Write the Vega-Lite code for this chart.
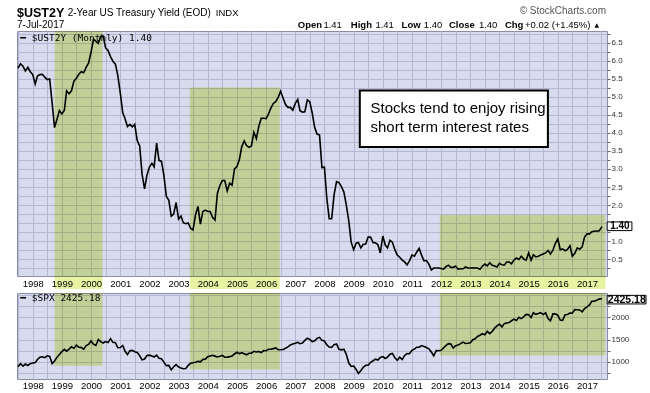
{
  "$schema": "https://vega.github.io/schema/vega-lite/v6.json",
  "background": "white",
  "padding": {"left": 14, "top": 5, "right": 0, "bottom": 0},
  "spacing": 0,
  "datasets": {
    "boxes": [
      {"start": "1998-10-02", "end": "2000-05-23", "ust_top": 6.83, "spx_bottom": 910},
      {"start": "2003-05-21", "end": "2006-06-21", "ust_top": 5.26, "spx_bottom": 826},
      {"start": "2011-12-16", "end": "2017-08-20", "ust_top": 1.72, "spx_bottom": 1140}
    ],
    "ust": [
      {"date":"1997-07-01","value":5.80},{"date":"1997-08-01","value":5.92},{"date":"1997-09-01","value":5.85},{"date":"1997-10-01","value":5.72},{"date":"1997-11-01","value":5.82},{"date":"1997-12-01","value":5.70},
      {"date":"1998-01-01","value":5.62},{"date":"1998-02-01","value":5.36},{"date":"1998-03-01","value":5.58},{"date":"1998-04-01","value":5.62},{"date":"1998-05-01","value":5.63},{"date":"1998-06-01","value":5.55},{"date":"1998-07-01","value":5.48},{"date":"1998-08-01","value":5.50},{"date":"1998-09-01","value":4.83},{"date":"1998-10-01","value":4.15},{"date":"1998-11-01","value":4.38},{"date":"1998-12-01","value":4.62},
      {"date":"1999-01-01","value":4.53},{"date":"1999-02-01","value":4.63},{"date":"1999-03-01","value":5.17},{"date":"1999-04-01","value":5.09},{"date":"1999-05-01","value":5.17},{"date":"1999-06-01","value":5.44},{"date":"1999-07-01","value":5.52},{"date":"1999-08-01","value":5.63},{"date":"1999-09-01","value":5.70},{"date":"1999-10-01","value":5.67},{"date":"1999-11-01","value":5.82},{"date":"1999-12-01","value":5.94},
      {"date":"2000-01-01","value":6.24},{"date":"2000-02-01","value":6.60},{"date":"2000-03-01","value":6.55},{"date":"2000-04-01","value":6.49},{"date":"2000-05-01","value":6.68},{"date":"2000-06-01","value":6.69},{"date":"2000-07-01","value":6.36},{"date":"2000-08-01","value":6.29},{"date":"2000-09-01","value":6.12},{"date":"2000-10-01","value":5.99},{"date":"2000-11-01","value":5.91},{"date":"2000-12-01","value":5.60},
      {"date":"2001-01-01","value":5.11},{"date":"2001-02-01","value":4.56},{"date":"2001-03-01","value":4.40},{"date":"2001-04-01","value":4.18},{"date":"2001-05-01","value":4.24},{"date":"2001-06-01","value":4.17},{"date":"2001-07-01","value":4.24},{"date":"2001-08-01","value":3.79},{"date":"2001-09-01","value":3.64},{"date":"2001-10-01","value":2.85},{"date":"2001-11-01","value":2.45},{"date":"2001-12-01","value":2.83},
      {"date":"2002-01-01","value":3.05},{"date":"2002-02-01","value":3.16},{"date":"2002-03-01","value":3.06},{"date":"2002-04-01","value":3.72},{"date":"2002-05-01","value":3.24},{"date":"2002-06-01","value":3.21},{"date":"2002-07-01","value":2.82},{"date":"2002-08-01","value":2.24},{"date":"2002-09-01","value":2.13},{"date":"2002-10-01","value":1.69},{"date":"2002-11-01","value":1.75},{"date":"2002-12-01","value":2.07},
      {"date":"2003-01-01","value":1.61},{"date":"2003-02-01","value":1.69},{"date":"2003-03-01","value":1.51},{"date":"2003-04-01","value":1.48},{"date":"2003-05-01","value":1.50},{"date":"2003-06-01","value":1.35},{"date":"2003-07-01","value":1.31},{"date":"2003-08-01","value":1.73},{"date":"2003-09-01","value":1.96},{"date":"2003-10-01","value":1.47},{"date":"2003-11-01","value":1.82},{"date":"2003-12-01","value":1.86},
      {"date":"2004-01-01","value":1.82},{"date":"2004-02-01","value":1.82},{"date":"2004-03-01","value":1.66},{"date":"2004-04-01","value":1.58},{"date":"2004-05-01","value":2.32},{"date":"2004-06-01","value":2.54},{"date":"2004-07-01","value":2.68},{"date":"2004-08-01","value":2.68},{"date":"2004-09-01","value":2.39},{"date":"2004-10-01","value":2.61},{"date":"2004-11-01","value":2.55},{"date":"2004-12-01","value":3.00},
      {"date":"2005-01-01","value":3.07},{"date":"2005-02-01","value":3.27},{"date":"2005-03-01","value":3.61},{"date":"2005-04-01","value":3.78},{"date":"2005-05-01","value":3.65},{"date":"2005-06-01","value":3.60},{"date":"2005-07-01","value":3.64},{"date":"2005-08-01","value":4.02},{"date":"2005-09-01","value":3.84},{"date":"2005-10-01","value":4.18},{"date":"2005-11-01","value":4.41},{"date":"2005-12-01","value":4.41},
      {"date":"2006-01-01","value":4.40},{"date":"2006-02-01","value":4.53},{"date":"2006-03-01","value":4.69},{"date":"2006-04-01","value":4.82},{"date":"2006-05-01","value":4.87},{"date":"2006-06-01","value":4.99},{"date":"2006-07-01","value":5.16},{"date":"2006-08-01","value":4.97},{"date":"2006-09-01","value":4.79},{"date":"2006-10-01","value":4.71},{"date":"2006-11-01","value":4.71},{"date":"2006-12-01","value":4.63},
      {"date":"2007-01-01","value":4.82},{"date":"2007-02-01","value":4.93},{"date":"2007-03-01","value":4.62},{"date":"2007-04-01","value":4.58},{"date":"2007-05-01","value":4.59},{"date":"2007-06-01","value":4.92},{"date":"2007-07-01","value":4.87},{"date":"2007-08-01","value":4.56},{"date":"2007-09-01","value":4.15},{"date":"2007-10-01","value":3.97},{"date":"2007-11-01","value":3.94},{"date":"2007-12-01","value":3.04},
      {"date":"2008-01-01","value":3.05},{"date":"2008-02-01","value":2.16},{"date":"2008-03-01","value":1.62},{"date":"2008-04-01","value":1.62},{"date":"2008-05-01","value":2.29},{"date":"2008-06-01","value":2.65},{"date":"2008-07-01","value":2.62},{"date":"2008-08-01","value":2.51},{"date":"2008-09-01","value":2.36},{"date":"2008-10-01","value":2.00},{"date":"2008-11-01","value":1.56},{"date":"2008-12-01","value":0.97},
      {"date":"2009-01-01","value":0.76},{"date":"2009-02-01","value":0.94},{"date":"2009-03-01","value":0.96},{"date":"2009-04-01","value":0.81},{"date":"2009-05-01","value":0.91},{"date":"2009-06-01","value":0.92},{"date":"2009-07-01","value":1.11},{"date":"2009-08-01","value":1.11},{"date":"2009-09-01","value":0.96},{"date":"2009-10-01","value":0.95},{"date":"2009-11-01","value":0.90},{"date":"2009-12-01","value":0.67},
      {"date":"2010-01-01","value":1.14},{"date":"2010-02-01","value":0.89},{"date":"2010-03-01","value":0.81},{"date":"2010-04-01","value":1.02},{"date":"2010-05-01","value":0.97},{"date":"2010-06-01","value":0.76},{"date":"2010-07-01","value":0.61},{"date":"2010-08-01","value":0.55},{"date":"2010-09-01","value":0.47},{"date":"2010-10-01","value":0.42},{"date":"2010-11-01","value":0.34},{"date":"2010-12-01","value":0.45},
      {"date":"2011-01-01","value":0.61},{"date":"2011-02-01","value":0.58},{"date":"2011-03-01","value":0.69},{"date":"2011-04-01","value":0.80},{"date":"2011-05-01","value":0.61},{"date":"2011-06-01","value":0.45},{"date":"2011-07-01","value":0.46},{"date":"2011-08-01","value":0.36},{"date":"2011-09-01","value":0.20},{"date":"2011-10-01","value":0.25},{"date":"2011-11-01","value":0.25},{"date":"2011-12-01","value":0.25},
      {"date":"2012-01-01","value":0.24},{"date":"2012-02-01","value":0.22},{"date":"2012-03-01","value":0.29},{"date":"2012-04-01","value":0.33},{"date":"2012-05-01","value":0.27},{"date":"2012-06-01","value":0.27},{"date":"2012-07-01","value":0.30},{"date":"2012-08-01","value":0.22},{"date":"2012-09-01","value":0.23},{"date":"2012-10-01","value":0.23},{"date":"2012-11-01","value":0.28},{"date":"2012-12-01","value":0.25},
      {"date":"2013-01-01","value":0.25},{"date":"2013-02-01","value":0.26},{"date":"2013-03-01","value":0.25},{"date":"2013-04-01","value":0.25},{"date":"2013-05-01","value":0.22},{"date":"2013-06-01","value":0.30},{"date":"2013-07-01","value":0.36},{"date":"2013-08-01","value":0.31},{"date":"2013-09-01","value":0.40},{"date":"2013-10-01","value":0.33},{"date":"2013-11-01","value":0.31},{"date":"2013-12-01","value":0.28},
      {"date":"2014-01-01","value":0.38},{"date":"2014-02-01","value":0.34},{"date":"2014-03-01","value":0.33},{"date":"2014-04-01","value":0.42},{"date":"2014-05-01","value":0.42},{"date":"2014-06-01","value":0.37},{"date":"2014-07-01","value":0.47},{"date":"2014-08-01","value":0.53},{"date":"2014-09-01","value":0.49},{"date":"2014-10-01","value":0.58},{"date":"2014-11-01","value":0.50},{"date":"2014-12-01","value":0.47},
      {"date":"2015-01-01","value":0.67},{"date":"2015-02-01","value":0.47},{"date":"2015-03-01","value":0.62},{"date":"2015-04-01","value":0.56},{"date":"2015-05-01","value":0.58},{"date":"2015-06-01","value":0.61},{"date":"2015-07-01","value":0.64},{"date":"2015-08-01","value":0.67},{"date":"2015-09-01","value":0.74},{"date":"2015-10-01","value":0.64},{"date":"2015-11-01","value":0.75},{"date":"2015-12-01","value":0.93},
      {"date":"2016-01-01","value":1.06},{"date":"2016-02-01","value":0.76},{"date":"2016-03-01","value":0.78},{"date":"2016-04-01","value":0.73},{"date":"2016-05-01","value":0.77},{"date":"2016-06-01","value":0.87},{"date":"2016-07-01","value":0.58},{"date":"2016-08-01","value":0.66},{"date":"2016-09-01","value":0.81},{"date":"2016-10-01","value":0.77},{"date":"2016-11-01","value":0.84},{"date":"2016-12-01","value":1.11},
      {"date":"2017-01-01","value":1.20},{"date":"2017-02-01","value":1.20},{"date":"2017-03-01","value":1.26},{"date":"2017-04-01","value":1.27},{"date":"2017-05-01","value":1.28},{"date":"2017-06-01","value":1.28},{"date":"2017-07-01","value":1.38},{"date":"2017-07-07","value":1.40}
    ],
    "spx": [
      {"date":"1997-07-01","value":885},{"date":"1997-08-01","value":954},{"date":"1997-09-01","value":899},{"date":"1997-10-01","value":947},{"date":"1997-11-01","value":915},{"date":"1997-12-01","value":955},
      {"date":"1998-01-01","value":970},{"date":"1998-02-01","value":980},{"date":"1998-03-01","value":1049},{"date":"1998-04-01","value":1102},{"date":"1998-05-01","value":1112},{"date":"1998-06-01","value":1091},{"date":"1998-07-01","value":1134},{"date":"1998-08-01","value":1121},{"date":"1998-09-01","value":957},{"date":"1998-10-01","value":1017},{"date":"1998-11-01","value":1099},{"date":"1998-12-01","value":1164},
      {"date":"1999-01-01","value":1229},{"date":"1999-02-01","value":1280},{"date":"1999-03-01","value":1238},{"date":"1999-04-01","value":1286},{"date":"1999-05-01","value":1335},{"date":"1999-06-01","value":1302},{"date":"1999-07-01","value":1373},{"date":"1999-08-01","value":1329},{"date":"1999-09-01","value":1320},{"date":"1999-10-01","value":1283},{"date":"1999-11-01","value":1363},{"date":"1999-12-01","value":1389},
      {"date":"2000-01-01","value":1469},{"date":"2000-02-01","value":1394},{"date":"2000-03-01","value":1366},{"date":"2000-04-01","value":1499},{"date":"2000-05-01","value":1452},{"date":"2000-06-01","value":1421},{"date":"2000-07-01","value":1455},{"date":"2000-08-01","value":1431},{"date":"2000-09-01","value":1518},{"date":"2000-10-01","value":1437},{"date":"2000-11-01","value":1429},{"date":"2000-12-01","value":1315},
      {"date":"2001-01-01","value":1320},{"date":"2001-02-01","value":1366},{"date":"2001-03-01","value":1240},{"date":"2001-04-01","value":1160},{"date":"2001-05-01","value":1249},{"date":"2001-06-01","value":1256},{"date":"2001-07-01","value":1224},{"date":"2001-08-01","value":1211},{"date":"2001-09-01","value":1134},{"date":"2001-10-01","value":1041},{"date":"2001-11-01","value":1060},{"date":"2001-12-01","value":1139},
      {"date":"2002-01-01","value":1148},{"date":"2002-02-01","value":1130},{"date":"2002-03-01","value":1107},{"date":"2002-04-01","value":1147},{"date":"2002-05-01","value":1076},{"date":"2002-06-01","value":1067},{"date":"2002-07-01","value":990},{"date":"2002-08-01","value":912},{"date":"2002-09-01","value":916},{"date":"2002-10-01","value":815},{"date":"2002-11-01","value":886},{"date":"2002-12-01","value":936},
      {"date":"2003-01-01","value":880},{"date":"2003-02-01","value":856},{"date":"2003-03-01","value":841},{"date":"2003-04-01","value":848},{"date":"2003-05-01","value":917},{"date":"2003-06-01","value":964},{"date":"2003-07-01","value":975},{"date":"2003-08-01","value":990},{"date":"2003-09-01","value":1008},{"date":"2003-10-01","value":996},{"date":"2003-11-01","value":1051},{"date":"2003-12-01","value":1058},
      {"date":"2004-01-01","value":1112},{"date":"2004-02-01","value":1131},{"date":"2004-03-01","value":1145},{"date":"2004-04-01","value":1126},{"date":"2004-05-01","value":1107},{"date":"2004-06-01","value":1121},{"date":"2004-07-01","value":1141},{"date":"2004-08-01","value":1102},{"date":"2004-09-01","value":1104},{"date":"2004-10-01","value":1115},{"date":"2004-11-01","value":1130},{"date":"2004-12-01","value":1174},
      {"date":"2005-01-01","value":1212},{"date":"2005-02-01","value":1181},{"date":"2005-03-01","value":1204},{"date":"2005-04-01","value":1181},{"date":"2005-05-01","value":1157},{"date":"2005-06-01","value":1192},{"date":"2005-07-01","value":1191},{"date":"2005-08-01","value":1234},{"date":"2005-09-01","value":1220},{"date":"2005-10-01","value":1229},{"date":"2005-11-01","value":1207},{"date":"2005-12-01","value":1249},
      {"date":"2006-01-01","value":1248},{"date":"2006-02-01","value":1280},{"date":"2006-03-01","value":1281},{"date":"2006-04-01","value":1295},{"date":"2006-05-01","value":1311},{"date":"2006-06-01","value":1270},{"date":"2006-07-01","value":1270},{"date":"2006-08-01","value":1277},{"date":"2006-09-01","value":1304},{"date":"2006-10-01","value":1336},{"date":"2006-11-01","value":1378},{"date":"2006-12-01","value":1401},
      {"date":"2007-01-01","value":1418},{"date":"2007-02-01","value":1438},{"date":"2007-03-01","value":1407},{"date":"2007-04-01","value":1421},{"date":"2007-05-01","value":1482},{"date":"2007-06-01","value":1531},{"date":"2007-07-01","value":1503},{"date":"2007-08-01","value":1455},{"date":"2007-09-01","value":1474},{"date":"2007-10-01","value":1527},{"date":"2007-11-01","value":1549},{"date":"2007-12-01","value":1481},
      {"date":"2008-01-01","value":1468},{"date":"2008-02-01","value":1379},{"date":"2008-03-01","value":1331},{"date":"2008-04-01","value":1323},{"date":"2008-05-01","value":1386},{"date":"2008-06-01","value":1400},{"date":"2008-07-01","value":1280},{"date":"2008-08-01","value":1267},{"date":"2008-09-01","value":1283},{"date":"2008-10-01","value":1166},{"date":"2008-11-01","value":969},{"date":"2008-12-01","value":896},
      {"date":"2009-01-01","value":903},{"date":"2009-02-01","value":826},{"date":"2009-03-01","value":735},{"date":"2009-04-01","value":798},{"date":"2009-05-01","value":873},{"date":"2009-06-01","value":919},{"date":"2009-07-01","value":919},{"date":"2009-08-01","value":987},{"date":"2009-09-01","value":1021},{"date":"2009-10-01","value":1057},{"date":"2009-11-01","value":1036},{"date":"2009-12-01","value":1096},
      {"date":"2010-01-01","value":1115},{"date":"2010-02-01","value":1074},{"date":"2010-03-01","value":1104},{"date":"2010-04-01","value":1169},{"date":"2010-05-01","value":1187},{"date":"2010-06-01","value":1089},{"date":"2010-07-01","value":1031},{"date":"2010-08-01","value":1102},{"date":"2010-09-01","value":1049},{"date":"2010-10-01","value":1141},{"date":"2010-11-01","value":1183},{"date":"2010-12-01","value":1181},
      {"date":"2011-01-01","value":1258},{"date":"2011-02-01","value":1286},{"date":"2011-03-01","value":1327},{"date":"2011-04-01","value":1326},{"date":"2011-05-01","value":1364},{"date":"2011-06-01","value":1345},{"date":"2011-07-01","value":1321},{"date":"2011-08-01","value":1292},{"date":"2011-09-01","value":1219},{"date":"2011-10-01","value":1131},{"date":"2011-11-01","value":1253},{"date":"2011-12-01","value":1247},
      {"date":"2012-01-01","value":1258},{"date":"2012-02-01","value":1312},{"date":"2012-03-01","value":1366},{"date":"2012-04-01","value":1408},{"date":"2012-05-01","value":1398},{"date":"2012-06-01","value":1310},{"date":"2012-07-01","value":1362},{"date":"2012-08-01","value":1379},{"date":"2012-09-01","value":1407},{"date":"2012-10-01","value":1441},{"date":"2012-11-01","value":1412},{"date":"2012-12-01","value":1416},
      {"date":"2013-01-01","value":1426},{"date":"2013-02-01","value":1498},{"date":"2013-03-01","value":1515},{"date":"2013-04-01","value":1569},{"date":"2013-05-01","value":1598},{"date":"2013-06-01","value":1631},{"date":"2013-07-01","value":1606},{"date":"2013-08-01","value":1686},{"date":"2013-09-01","value":1633},{"date":"2013-10-01","value":1682},{"date":"2013-11-01","value":1757},{"date":"2013-12-01","value":1806},
      {"date":"2014-01-01","value":1848},{"date":"2014-02-01","value":1783},{"date":"2014-03-01","value":1859},{"date":"2014-04-01","value":1872},{"date":"2014-05-01","value":1884},{"date":"2014-06-01","value":1924},{"date":"2014-07-01","value":1960},{"date":"2014-08-01","value":1931},{"date":"2014-09-01","value":2003},{"date":"2014-10-01","value":1972},{"date":"2014-11-01","value":2018},{"date":"2014-12-01","value":2068},
      {"date":"2015-01-01","value":2059},{"date":"2015-02-01","value":1995},{"date":"2015-03-01","value":2105},{"date":"2015-04-01","value":2068},{"date":"2015-05-01","value":2086},{"date":"2015-06-01","value":2107},{"date":"2015-07-01","value":2063},{"date":"2015-08-01","value":2104},{"date":"2015-09-01","value":1972},{"date":"2015-10-01","value":1920},{"date":"2015-11-01","value":2079},{"date":"2015-12-01","value":2080},
      {"date":"2016-01-01","value":2044},{"date":"2016-02-01","value":1940},{"date":"2016-03-01","value":1932},{"date":"2016-04-01","value":2060},{"date":"2016-05-01","value":2065},{"date":"2016-06-01","value":2097},{"date":"2016-07-01","value":2099},{"date":"2016-08-01","value":2174},{"date":"2016-09-01","value":2171},{"date":"2016-10-01","value":2168},{"date":"2016-11-01","value":2126},{"date":"2016-12-01","value":2199},
      {"date":"2017-01-01","value":2239},{"date":"2017-02-01","value":2279},{"date":"2017-03-01","value":2364},{"date":"2017-04-01","value":2363},{"date":"2017-05-01","value":2384},{"date":"2017-06-01","value":2412},{"date":"2017-07-01","value":2423},{"date":"2017-07-07","value":2425.18}
    ]
  },
  "vconcat": [
    {
      "width": 590,
      "height": 245,
      "layer": [
        {
          "data": {"name": "boxes"},
          "mark": {"type": "rect", "color": "#e7f3a3", "blend": "multiply"},
          "encoding": {
            "x": {"field": "start", "type": "temporal"},
            "x2": {"field": "end"},
            "y": {"field": "ust_top", "type": "quantitative"},
            "y2": {"datum": -0.333}
          }
        },
        {
          "data": {"name": "ust"},
          "mark": {"type": "line", "color": "black", "strokeWidth": 1.6},
          "encoding": {
            "x": {
              "field": "date", "type": "temporal",
              "scale": {"domain": [{"year": 1997, "month": 6, "date": 18}, {"year": 2017, "month": 9, "date": 8}], "nice": false},
              "axis": {"title": null, "orient": "bottom", "tickCount": {"interval": "month", "step": 6}, "labelExpr": "month(datum.value) === 0 ? timeFormat(datum.value, '%Y') : ''", "grid": true, "ticks": false, "domain": false, "labelFlush": false, "labelOverlap": false, "labelPadding": 2, "labelFontSize": 9.5, "labelColor": "#000", "minExtent": 13, "maxExtent": 13}
            },
            "y": {
              "field": "value", "type": "quantitative",
              "scale": {"domain": [0.03, 6.83], "nice": false, "zero": false},
              "axis": {"title": null, "orient": "right", "tickCount": 200, "values": [0.25, 0.5, 0.75, 1, 1.25, 1.5, 1.75, 2, 2.25, 2.5, 2.75, 3, 3.25, 3.5, 3.75, 4, 4.25, 4.5, 4.75, 5, 5.25, 5.5, 5.75, 6, 6.25, 6.5, 6.75], "labelExpr": "(datum.value * 2) % 1 === 0 ? format(datum.value, '.1f') : ''", "grid": true, "domain": false, "tickSize": 3, "tickColor": "#666", "labelPadding": 1, "labelFontSize": 8, "labelColor": "#333", "labelOverlap": false}
            }
          }
        },
        {
          "data": {"values": [{}]},
          "layer": [
            {
              "mark": {"type": "rect", "fill": "white", "stroke": "black", "strokeWidth": 2},
              "encoding": {
                "x": {"datum": {"year": 2009, "month": 3, "date": 19}, "type": "temporal"},
                "x2": {"datum": {"year": 2015, "month": 8, "date": 30}},
                "y": {"datum": 5.179, "type": "quantitative"},
                "y2": {"datum": 3.608}
              }
            },
            {
              "mark": {"type": "text", "text": "Stocks tend to enjoy rising", "align": "left", "baseline": "middle", "fontSize": 15, "color": "black"},
              "encoding": {"x": {"datum": {"year": 2009, "month": 7, "date": 31}, "type": "temporal"}, "y": {"datum": 4.68, "type": "quantitative"}}
            },
            {
              "mark": {"type": "text", "text": "short term interest rates", "align": "left", "baseline": "middle", "fontSize": 15, "color": "black"},
              "encoding": {"x": {"datum": {"year": 2009, "month": 7, "date": 31}, "type": "temporal"}, "y": {"datum": 4.162, "type": "quantitative"}}
            },
            {
              "mark": {"type": "text", "text": "━ $UST2Y (Monthly) 1.40", "align": "left", "baseline": "middle", "font": "DejaVu Sans Mono", "fontSize": 9.5, "color": "black"},
              "encoding": {"x": {"datum": {"year": 1997, "month": 7, "date": 30}, "type": "temporal"}, "y": {"datum": 6.647, "type": "quantitative"}}
            },
            {
              "mark": {"type": "rect", "fill": "white", "stroke": "black", "strokeWidth": 1},
              "encoding": {
                "x": {"datum": {"year": 2017, "month": 9, "date": 10}, "type": "temporal"},
                "x2": {"datum": {"year": 2018, "month": 7, "date": 17}},
                "y": {"datum": 1.29, "type": "quantitative"},
                "y2": {"datum": 1.53}
              }
            },
            {
              "mark": {"type": "text", "text": "1.40", "align": "center", "baseline": "middle", "fontSize": 10, "fontWeight": "bold", "color": "black"},
              "encoding": {"x": {"datum": {"year": 2018, "month": 2, "date": 17}, "type": "temporal"}, "y": {"datum": 1.41, "type": "quantitative"}}
            },
            {
              "mark": {"type": "text", "text": "$UST2Y", "align": "left", "baseline": "middle", "fontSize": 12.5, "fontWeight": "bold", "color": "black"},
              "encoding": {"x": {"datum": {"year": 1997, "month": 6, "date": 18}, "type": "temporal"}, "y": {"datum": 7.33, "type": "quantitative"}}
            },
            {
              "mark": {"type": "text", "text": "2-Year US Treasury Yield (EOD)", "align": "left", "baseline": "middle", "fontSize": 10, "color": "black"},
              "encoding": {"x": {"datum": {"year": 1999, "month": 3, "date": 15}, "type": "temporal"}, "y": {"datum": 7.33, "type": "quantitative"}}
            },
            {
              "mark": {"type": "text", "text": "INDX", "align": "left", "baseline": "middle", "fontSize": 9.5, "color": "black"},
              "encoding": {"x": {"datum": {"year": 2004, "month": 4, "date": 11}, "type": "temporal"}, "y": {"datum": 7.33, "type": "quantitative"}}
            },
            {
              "mark": {"type": "text", "text": "© StockCharts.com", "align": "right", "baseline": "middle", "fontSize": 10, "color": "#555"},
              "encoding": {"x": {"datum": {"year": 2017, "month": 8, "date": 26}, "type": "temporal"}, "y": {"datum": 7.395, "type": "quantitative"}}
            },
            {
              "mark": {"type": "text", "text": "7-Jul-2017", "align": "left", "baseline": "middle", "fontSize": 10, "color": "black"},
              "encoding": {"x": {"datum": {"year": 1997, "month": 6, "date": 18}, "type": "temporal"}, "y": {"datum": 6.993, "type": "quantitative"}}
            },
            {
              "mark": {"type": "text", "text": "Open", "align": "left", "baseline": "middle", "fontSize": 9.5, "fontWeight": "bold", "color": "black"},
              "encoding": {"x": {"datum": {"year": 2007, "month": 2, "date": 2}, "type": "temporal"}, "y": {"datum": 6.993, "type": "quantitative"}}
            },
            {
              "mark": {"type": "text", "text": "1.41", "align": "left", "baseline": "middle", "fontSize": 9.5, "color": "black"},
              "encoding": {"x": {"datum": {"year": 2007, "month": 12, "date": 19}, "type": "temporal"}, "y": {"datum": 6.993, "type": "quantitative"}}
            },
            {
              "mark": {"type": "text", "text": "High", "align": "left", "baseline": "middle", "fontSize": 9.5, "fontWeight": "bold", "color": "black"},
              "encoding": {"x": {"datum": {"year": 2008, "month": 11, "date": 27}, "type": "temporal"}, "y": {"datum": 6.993, "type": "quantitative"}}
            },
            {
              "mark": {"type": "text", "text": "1.41", "align": "left", "baseline": "middle", "fontSize": 9.5, "color": "black"},
              "encoding": {"x": {"datum": {"year": 2009, "month": 9, "date": 30}, "type": "temporal"}, "y": {"datum": 6.993, "type": "quantitative"}}
            },
            {
              "mark": {"type": "text", "text": "Low", "align": "left", "baseline": "middle", "fontSize": 9.5, "fontWeight": "bold", "color": "black"},
              "encoding": {"x": {"datum": {"year": 2010, "month": 8, "date": 24}, "type": "temporal"}, "y": {"datum": 6.993, "type": "quantitative"}}
            },
            {
              "mark": {"type": "text", "text": "1.40", "align": "left", "baseline": "middle", "fontSize": 9.5, "color": "black"},
              "encoding": {"x": {"datum": {"year": 2011, "month": 5, "date": 30}, "type": "temporal"}, "y": {"datum": 6.993, "type": "quantitative"}}
            },
            {
              "mark": {"type": "text", "text": "Close", "align": "left", "baseline": "middle", "fontSize": 9.5, "fontWeight": "bold", "color": "black"},
              "encoding": {"x": {"datum": {"year": 2012, "month": 4, "date": 8}, "type": "temporal"}, "y": {"datum": 6.993, "type": "quantitative"}}
            },
            {
              "mark": {"type": "text", "text": "1.40", "align": "left", "baseline": "middle", "fontSize": 9.5, "color": "black"},
              "encoding": {"x": {"datum": {"year": 2013, "month": 4, "date": 18}, "type": "temporal"}, "y": {"datum": 6.993, "type": "quantitative"}}
            },
            {
              "mark": {"type": "text", "text": "Chg", "align": "left", "baseline": "middle", "fontSize": 9.5, "fontWeight": "bold", "color": "black"},
              "encoding": {"x": {"datum": {"year": 2014, "month": 3, "date": 10}, "type": "temporal"}, "y": {"datum": 6.993, "type": "quantitative"}}
            },
            {
              "mark": {"type": "text", "text": "+0.02 (+1.45%)", "align": "left", "baseline": "middle", "fontSize": 9.5, "color": "black"},
              "encoding": {"x": {"datum": {"year": 2014, "month": 11, "date": 16}, "type": "temporal"}, "y": {"datum": 6.993, "type": "quantitative"}}
            },
            {
              "mark": {"type": "text", "text": "▲", "align": "left", "baseline": "middle", "font": "DejaVu Sans", "fontSize": 6, "color": "black"},
              "encoding": {"x": {"datum": {"year": 2017, "month": 4, "date": 5}, "type": "temporal"}, "y": {"datum": 6.993, "type": "quantitative"}}
            }
          ]
        }
      ]
    },
    {
      "width": 590,
      "height": 86,
      "layer": [
        {
          "data": {"name": "boxes"},
          "mark": {"type": "rect", "color": "#e7f3a3", "blend": "multiply"},
          "encoding": {
            "x": {"field": "start", "type": "temporal"},
            "x2": {"field": "end"},
            "y": {"field": "spx_bottom", "type": "quantitative"},
            "y2": {"datum": 2550}
          }
        },
        {
          "data": {"name": "spx"},
          "mark": {"type": "line", "color": "black", "strokeWidth": 1.6},
          "encoding": {
            "x": {
              "field": "date", "type": "temporal",
              "scale": {"domain": [{"year": 1997, "month": 6, "date": 18}, {"year": 2017, "month": 9, "date": 8}], "nice": false},
              "axis": {"title": null, "orient": "bottom", "tickCount": {"interval": "month", "step": 6}, "labelExpr": "month(datum.value) === 0 ? timeFormat(datum.value, '%Y') : ''", "grid": true, "ticks": false, "domain": false, "labelFlush": false, "labelOverlap": false, "labelPadding": 1, "labelFontSize": 9.5, "labelColor": "#000"}
            },
            "y": {
              "field": "value", "type": "quantitative",
              "scale": {"domain": [610, 2550], "nice": false, "zero": false},
              "axis": {"title": null, "orient": "right", "tickCount": 200, "values": [750, 1000, 1250, 1500, 1750, 2000, 2250, 2500], "labelExpr": "(datum.value % 500 === 0 && datum.value < 2500) ? format(datum.value, 'd') : ''", "grid": true, "domain": false, "tickSize": 3, "tickColor": "#666", "labelPadding": 1, "labelFontSize": 8, "labelColor": "#333", "labelOverlap": false}
            }
          }
        },
        {
          "data": {"values": [{}]},
          "layer": [
            {
              "mark": {"type": "text", "text": "━ $SPX 2425.18", "align": "left", "baseline": "middle", "font": "DejaVu Sans Mono", "fontSize": 9.5, "color": "black"},
              "encoding": {"x": {"datum": {"year": 1997, "month": 7, "date": 30}, "type": "temporal"}, "y": {"datum": 2433, "type": "quantitative"}}
            },
            {
              "mark": {"type": "rect", "fill": "white", "stroke": "black", "strokeWidth": 1},
              "encoding": {
                "x": {"datum": {"year": 2017, "month": 9, "date": 10}, "type": "temporal"},
                "x2": {"datum": {"year": 2019, "month": 1, "date": 9}},
                "y": {"datum": 2303, "type": "quantitative"},
                "y2": {"datum": 2497}
              }
            },
            {
              "mark": {"type": "text", "text": "2425.18", "align": "center", "baseline": "middle", "fontSize": 10.5, "fontWeight": "bold", "color": "black"},
              "encoding": {"x": {"datum": {"year": 2018, "month": 5, "date": 14}, "type": "temporal"}, "y": {"datum": 2400, "type": "quantitative"}}
            }
          ]
        }
      ]
    }
  ],
  "config": {
    "font": "Liberation Sans",
    "view": {"fill": "#d8daee", "stroke": "#8a8ca6", "strokeWidth": 1},
    "axis": {"gridColor": "#b4b6d2", "gridWidth": 1, "gridOpacity": 1, "labelFont": "Liberation Sans"}
  }
}
